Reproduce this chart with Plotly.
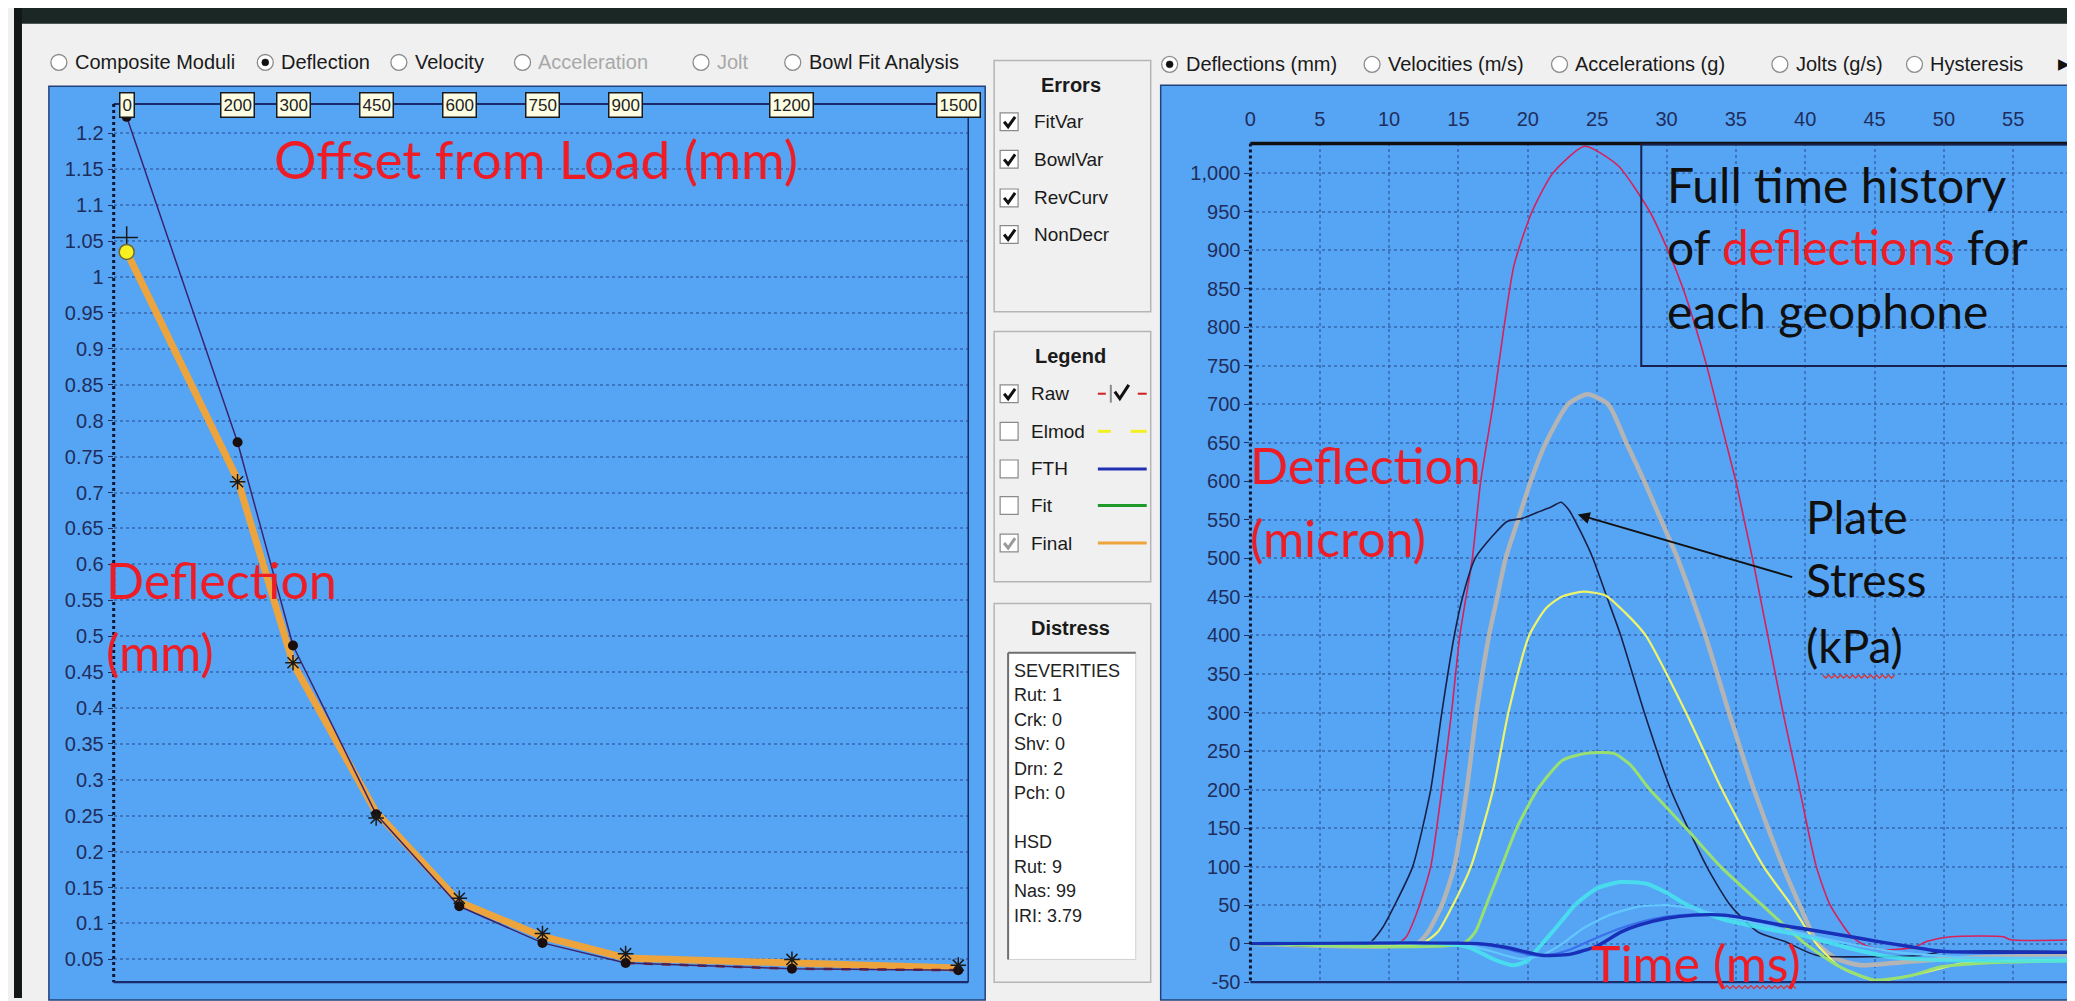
import plotly.graph_objects as go

W, H = 2075, 1001
UI = "Liberation Sans, Arial, sans-serif"
HAND = "Lato, Open Sans, sans-serif"
NAVY = "#1f2d5c"
BLUE_BG = "#56a5f5"

# ---------------- left chart: deflection bowl ----------------
offsets_mm = [0, 200, 300, 450, 600, 750, 900, 1200, 1500]
raw_defl = [1.223, 0.770, 0.487, 0.252, 0.124, 0.073, 0.045, 0.037, 0.035]
final_defl = [1.035, 0.718, 0.462, 0.255, 0.130, 0.082, 0.052, 0.045, 0.038]
elmod_defl = [1.055, 0.715, 0.463, 0.247, 0.135, 0.086, 0.058, 0.050, 0.042]
left_ticks = [1.2, 1.15, 1.1, 1.05, 1.0, 0.95, 0.9, 0.85, 0.8, 0.75, 0.7, 0.65,
              0.6, 0.55, 0.5, 0.45, 0.4, 0.35, 0.3, 0.25, 0.2, 0.15, 0.1, 0.05]
left_tick_text = ["1.2", "1.15", "1.1", "1.05", "1", "0.95", "0.9", "0.85", "0.8",
                  "0.75", "0.7", "0.65", "0.6", "0.55", "0.5", "0.45", "0.4", "0.35",
                  "0.3", "0.25", "0.2", "0.15", "0.1", "0.05"]

# ---------------- right chart: time histories (micron) ----------------
time_ticks = [0, 5, 10, 15, 20, 25, 30, 35, 40, 45, 50, 55]
defl_ticks = [-50, 0, 50, 100, 150, 200, 250, 300, 350, 400, 450, 500, 550, 600,
              650, 700, 750, 800, 850, 900, 950, 1000]
defl_tick_text = ["-50", "0", "50", "100", "150", "200", "250", "300", "350", "400",
                  "450", "500", "550", "600", "650", "700", "750", "800", "850",
                  "900", "950", "1,000"]

t_red = [0, 10.5, 11.2, 12.0, 13.0, 13.8, 14.5, 15.1, 16.0, 16.6, 17.5, 19.0, 20.3, 21.8,
         24.1, 26.5, 28.8, 30.1, 31.2, 32.1, 32.9, 33.6, 34.3, 35.0, 35.6, 36.2, 37.3,
         38.4, 39.6, 40.8, 41.8, 43.3, 44.3, 45.5, 47.8, 48.8, 50.5, 54.3, 54.8, 59.7]
d_red = [0, 0, 8, 40, 100, 200, 300, 400, 500, 600, 700, 880, 950, 1000,
         1035, 1010, 950, 900, 850, 800, 750, 700, 650, 600, 550, 500, 400,
         300, 200, 100, 50, 10, -2, -8, -5, 3, 9, 9, 5, 5]

t_grey = [0, 12.0, 12.8, 13.8, 14.7, 15.6, 16.3, 17.2, 17.8, 18.4, 19.3, 20.2, 21.3, 22.9,
          24.3, 25.8, 27.1, 28.4, 29.6, 30.8, 32.8, 34.5, 36.3, 38.4, 39.6, 40.9, 42.3,
          44.0, 47.0, 52.0, 59.7]
d_grey = [0, 0, 15, 50, 100, 200, 300, 400, 450, 500, 550, 600, 650, 700,
          713, 700, 650, 600, 550, 500, 400, 300, 200, 100, 50, 0, -20,
          -28, -24, -18, -15]

t_plate = [0, 8.5, 9.5, 10.4, 11.7, 13.0, 13.8, 14.7, 15.3, 16.2, 17.5, 18.5, 19.6, 20.7,
           21.6, 22.4, 23.0, 23.8, 24.7, 25.7, 26.7, 28.4, 30.3, 32.9, 34.6, 36.6, 38.5,
           40.8, 48.5, 50.0, 59.7]
d_plate = [0, 0, 20, 50, 100, 200, 300, 400, 450, 500, 530, 548, 552, 560,
           566, 573, 562, 535, 500, 450, 400, 300, 200, 100, 50, 15, 3,
           -15, -15, -10, -11]

t_yel = [0, 12.3, 13.5, 14.6, 15.9, 17.5, 18.6, 20.1, 21.3, 22.4, 24.0, 25.6, 27.0, 28.5,
         31.4, 34.0, 37.0, 39.0, 40.8, 42.5, 45.0, 48.0, 51.2, 55.0, 59.7]
d_yel = [0, 0, 15, 50, 100, 200, 300, 400, 435, 450, 457, 452, 430, 400,
         300, 200, 100, 50, 0, -30, -48, -40, -26, -22, -20]

t_grn = [0, 15.3, 16.2, 17.0, 18.1, 19.2, 20.7, 22.5, 24.2, 26.2, 27.4, 28.8, 31.4, 33.9,
         36.9, 40.0, 42.5, 45.0, 47.5, 49.8, 53.0, 59.7]
d_grn = [0, 0, 15, 50, 100, 150, 200, 238, 247, 247, 232, 200, 150, 100,
         50, 0, -30, -47, -42, -30, -25, -22]

t_cyan = [0, 14.0, 15.8, 17.5, 19.0, 20.0, 20.8, 22.0, 23.5, 25.0, 26.7, 28.5, 30.0, 31.5,
          34.0, 37.0, 40.0, 43.0, 46.0, 48.0, 52.0, 59.7]
d_cyan = [0, 0, -5, -20, -28, -22, -5, 20, 52, 72, 80, 78, 66, 50,
          32, 20, 10, -5, -17, -20, -22, -22]

t_sky = [0, 15, 17, 19.5, 21, 22.5, 24, 26, 28, 30, 32, 35, 38, 41, 44, 47, 52, 59.7]
d_sky = [0, 0, -8, -20, -15, 0, 20, 38, 48, 50, 45, 32, 20, 8, -3, -12, -18, -18]

t_mblue = [0, 16, 18, 20.3, 21.5, 23, 25, 27, 29, 31, 33, 35, 38, 41, 44, 47, 50, 59.7]
d_mblue = [0, 0, -5, -15, -15, -8, 8, 22, 32, 37, 38, 35, 26, 16, 6, -3, -9, -12]

t_dblue = [0, 16.4, 18.5, 21, 23, 25, 26.7, 28, 30, 32, 34.2, 36, 38.5, 40, 43, 45.5,
           47.6, 49.8, 59.7]
d_dblue = [0, 0, -5, -15, -14, -3, 15, 24, 33, 37, 37, 32, 23, 19, 10, 2,
           -4, -10, -11]

# ---------------- helpers (pixel -> paper) ----------------
shapes, annos = [], []


def px(x):
    return x / W


def py(y):
    return 1 - y / H


def rect(x0, y0, x1, y1, fill=None, line=None, lw=1.0, layer="below"):
    shapes.append(dict(type="rect", xref="paper", yref="paper",
                       x0=px(x0), x1=px(x1), y0=py(y1), y1=py(y0),
                       fillcolor=fill or "rgba(0,0,0,0)",
                       line=dict(color=line or "rgba(0,0,0,0)", width=lw if line else 0),
                       layer=layer))


def seg(x0, y0, x1, y1, color, width=1.0, dash=None, layer="above"):
    d = dict(type="line", xref="paper", yref="paper", x0=px(x0), x1=px(x1),
             y0=py(y0), y1=py(y1), line=dict(color=color, width=width), layer=layer)
    if dash:
        d["line"]["dash"] = dash
    shapes.append(d)


def path(points, color, width=1.0, layer="above"):
    p = "M " + " L ".join(f"{px(x):.5f},{py(y):.5f}" for x, y in points)
    shapes.append(dict(type="path", xref="paper", yref="paper", path=p,
                       line=dict(color=color, width=width), layer=layer))


def text(x, y, s, size=19, color="#1a1a1a", anchor="left", family=UI, yanchor="middle"):
    annos.append(dict(xref="paper", yref="paper", x=px(x), y=py(y), text=s,
                      showarrow=False, xanchor=anchor, yanchor=yanchor,
                      font=dict(size=size, color=color, family=family)))


def radio(cx, cy, label, selected=False, grey=False):
    r = 8
    shapes.append(dict(type="circle", xref="paper", yref="paper",
                       x0=px(cx - r), x1=px(cx + r), y0=py(cy + r), y1=py(cy - r),
                       fillcolor="#ffffff", line=dict(color="#8c8c8c", width=1.3),
                       layer="above"))
    if selected:
        r2 = 3.5
        shapes.append(dict(type="circle", xref="paper", yref="paper",
                           x0=px(cx - r2), x1=px(cx + r2), y0=py(cy + r2), y1=py(cy - r2),
                           fillcolor="#111111", line=dict(color="#111111", width=0.5),
                           layer="above"))
    text(cx + 14, cy, label, size=20, color="#a8a8a8" if grey else "#1a1a1a")


def checkbox(x0, cy, label, checked=True, tx=None, grey=False):
    s = 18
    y0 = cy - s / 2
    rect(x0, y0, x0 + s, y0 + s, fill="#ffffff", line="#8a8a8a", lw=1.2, layer="above")
    if checked:
        col = "#9a9a9a" if grey else "#111111"
        path([(x0 + 4, y0 + 9), (x0 + 8, y0 + 14), (x0 + 15, y0 + 4)], col, 3)
    text(tx if tx else x0 + 32, cy, label, size=19, color="#1a1a1a")


def wavy(x0, x1, y, color="#e03030"):
    pts = []
    x = x0
    k = 0
    while x <= x1:
        pts.append((x, y + (1.6 if k % 2 else -1.6)))
        x += 3
        k += 1
    path(pts, color, 1.2)


# ---------------- window chrome ----------------
rect(0, 0, W, 16, fill="#1b2725", layer="below")
rect(0, 0, 8, H, fill="#121815", layer="below")
# blue panels
rect(35, 79, 974, H + 2, fill=BLUE_BG, line="#24407a", lw=1.5)
rect(1150, 78, W + 2, H + 2, fill=BLUE_BG, line="#24407a", lw=1.5)

# radio rows
radio(45, 55, "Composite Moduli")
radio(252, 55, "Deflection", selected=True)
radio(386, 55, "Velocity")
radio(510, 55, "Acceleration", grey=True)
radio(689, 55, "Jolt", grey=True)
radio(781, 55, "Bowl Fit Analysis")

radio(1159, 57, "Deflections (mm)", selected=True)
radio(1362, 57, "Velocities (m/s)")
radio(1550, 57, "Accelerations (g)")
radio(1771, 57, "Jolts (g/s)")
radio(1906, 57, "Hysteresis")
text(2056, 56, "\u25B6", size=15, color="#111111", anchor="center")

# group boxes
rect(983, 53, 1140, 307, fill="#f0f0f0", line="#b5b5b5", lw=1.5)
rect(983, 327, 1140, 580, fill="#f0f0f0", line="#b5b5b5", lw=1.5)
rect(983, 602, 1140, 985, fill="#f0f0f0", line="#b5b5b5", lw=1.5)
text(1060, 78, "<b>Errors</b>", size=20, anchor="center")
text(1060, 352, "<b>Legend</b>", size=20, anchor="center")
text(1060, 627, "<b>Distress</b>", size=20, anchor="center")

for lab, yy in zip(["FitVar", "BowlVar", "RevCurv", "NonDecr"], [115, 153, 192, 229]):
    checkbox(989, yy, lab, True)

legend_rows = [("Raw", 390, True, False), ("Elmod", 428, False, False),
               ("FTH", 466, False, False), ("Fit", 503, False, False),
               ("Final", 541, True, True)]
for lab, yy, chk, gr in legend_rows:
    checkbox(989, yy, lab, chk, tx=1018, grey=gr)
# legend line samples
seg(1087, 390, 1095, 390, "#d02020", 2)
seg(1127, 390, 1136, 390, "#d02020", 2)
seg(1100, 381, 1100, 399, "#8a8a8a", 2)
path([(1104, 388), (1109, 395), (1118, 381)], "#111111", 3)
seg(1087, 428, 1100, 428, "#f2f020", 3)
seg(1120, 428, 1136, 428, "#f2f020", 3)
seg(1087, 466, 1136, 466, "#2030b0", 3)
seg(1087, 503, 1136, 503, "#1f9a2a", 3)
seg(1087, 541, 1136, 541, "#eea43c", 3)

# distress list box
rect(997, 652, 1125, 962, fill="#ffffff", line="#d0d0d0", lw=1, layer="above")
seg(997, 652, 1125, 652, "#707070", 2)
seg(997, 652, 997, 962, "#707070", 2)
distress_lines = ["SEVERITIES", "Rut: 1", "Crk: 0", "Shv: 0", "Drn: 2", "Pch: 0", "",
                  "HSD", "Rut: 9", "Nas: 99", "IRI: 3.79"]
for i, s in enumerate(distress_lines):
    if s:
        text(1001, 670 + i * 24.8, s, size=18, color="#222222")

# ---------------- left chart frame ----------------
seg(100, 97, 957, 97, "#1a2a6a", 2)
seg(100, 97, 100, 985, "#0d1530", 3, dash="dot")
seg(100, 985, 957, 985, "#1a2a6a", 2.2)
seg(957, 97, 957, 985, "#1a2a6a", 1.5)

for off in offsets_mm:
    annos.append(dict(xref="x", yref="paper", x=off, y=py(98), text=str(off),
                      showarrow=False, xanchor="center", yanchor="middle",
                      font=dict(size=17, color="#222222", family=UI),
                      bgcolor="#fdfde4", bordercolor="#1a1a1a", borderwidth=1.5,
                      borderpad=2))

# ---------------- right chart frame ----------------
seg(1240, 137, 2070, 137, "#101010", 3.5)
seg(1240, 137, 1240, 985, "#0d1530", 3, dash="dot")
seg(1240, 985, 2070, 985, "#1a2a6a", 2.2)
seg(2070, 137, 2070, 985, "#1a2a6a", 1.5)
# text box on the right chart
rect(1632, 138, 2069, 362, line="#182050", lw=2, layer="above")
text(1656, 178, "Full time history", size=48, color="#101010", family=HAND)
text(1656, 241, "of <span style='color:#ee1c25'>deflections</span> for", size=48,
     color="#101010", family=HAND)
text(1656, 306, "each geophone", size=48, color="#101010", family=HAND)

# red labels
text(524, 152, "Offset from Load (mm)", size=53, color="#ee1c25", anchor="center", family=HAND)
text(90, 578, "Deflection", size=50, color="#ee1c25", family=HAND)
text(90, 651, "(mm)", size=50, color="#ee1c25", family=HAND)
text(1238, 462, "Deflection", size=50, color="#ee1c25", family=HAND)
text(1238, 536, "(micron)", size=50, color="#ee1c25", family=HAND)
text(1580, 966, "Time (ms)", size=50, color="#ee1c25", family=HAND)
text(1795, 514, "Plate", size=46, color="#101010", family=HAND)
text(1795, 578, "Stress", size=46, color="#101010", family=HAND)
text(1795, 645, "(kPa)", size=46, color="#101010", family=HAND)
wavy(1814, 1888, 676)
wavy(1712, 1788, 990)

annos.append(dict(xref="x2", yref="y2", x=23.6, y=557, ax=216, ay=63, text="",
                  showarrow=True, arrowhead=2, arrowsize=1.2, arrowwidth=2,
                  arrowcolor="#111111"))

# ---------------- traces ----------------
fig = go.Figure()

fig.add_trace(go.Scatter(x=offsets_mm, y=final_defl, mode="lines",
                         line=dict(color="#eea43c", width=7), xaxis="x", yaxis="y"))
fig.add_trace(go.Scatter(x=offsets_mm[6:], y=raw_defl[6:], mode="lines",
                         line=dict(color="#8b1a10", width=2.5, dash="dash"),
                         xaxis="x", yaxis="y"))
fig.add_trace(go.Scatter(x=offsets_mm, y=raw_defl, mode="lines+markers",
                         line=dict(color="#3a2470", width=1.5),
                         marker=dict(color="#1a0d0d", size=10),
                         xaxis="x", yaxis="y"))
fig.add_trace(go.Scatter(x=offsets_mm[1:], y=elmod_defl[1:], mode="markers",
                         marker=dict(symbol="asterisk-open", size=13, color="#1a1a1a",
                                     line=dict(color="#1a1a1a", width=1.5)),
                         xaxis="x", yaxis="y"))
fig.add_trace(go.Scatter(x=offsets_mm[:1], y=elmod_defl[:1], mode="markers",
                         marker=dict(symbol="cross-thin-open", size=16, color="#1a1a1a",
                                     line=dict(color="#1a1a1a", width=1.5)),
                         xaxis="x", yaxis="y"))
fig.add_trace(go.Scatter(x=offsets_mm[:1], y=final_defl[:1], mode="markers",
                         marker=dict(color="#f8f020", size=15,
                                     line=dict(color="#6a6a3a", width=1.5)),
                         xaxis="x", yaxis="y"))

curves = [
    (t_grey, d_grey, "#b4b4b4", 4.5),
    (t_red, d_red, "#d8205a", 1.6),
    (t_plate, d_plate, "#1a2048", 1.6),
    (t_yel, d_yel, "#eef46a", 2.2),
    (t_grn, d_grn, "#98e070", 3.0),
    (t_cyan, d_cyan, "rgba(70,228,236,0.85)", 4.0),
    (t_sky, d_sky, "#62c6ff", 2.2),
    (t_mblue, d_mblue, "#3a70ea", 2.2),
    (t_dblue, d_dblue, "#1830b8", 3.4),
]
for tt, dd, col, wd in curves:
    fig.add_trace(go.Scatter(x=tt, y=dd, mode="lines",
                             line=dict(color=col, width=wd, shape="spline", smoothing=0.6),
                             xaxis="x2", yaxis="y2"))

GRID = "rgba(45,80,150,0.55)"
fig.update_layout(
    width=W, height=H, margin=dict(l=0, r=0, t=0, b=0),
    paper_bgcolor="#f0f0f0", plot_bgcolor="rgba(0,0,0,0)",
    showlegend=False,
    xaxis=dict(domain=[px(100), px(957)], range=[-23.4, 1518], anchor="y",
               showgrid=False, zeroline=False, showticklabels=False, showline=False,
               ticks=""),
    yaxis=dict(domain=[py(985), py(97)], range=[0.0183, 1.241], anchor="x",
               tickvals=left_ticks, ticktext=left_tick_text, ticks="outside",
               ticklen=5, tickcolor=NAVY, tickfont=dict(size=20, color=NAVY, family=UI),
               showgrid=True, gridcolor=GRID, griddash="dot", gridwidth=1.5,
               zeroline=False, showline=False),
    xaxis2=dict(domain=[px(1240), px(2070)], range=[0, 59.67], anchor="y2", side="top",
                tickvals=time_ticks, ticks="", ticklabelstandoff=12,
                tickfont=dict(size=20, color=NAVY, family=UI),
                showgrid=True, gridcolor=GRID, griddash="dot", gridwidth=1.5,
                zeroline=False, showline=False),
    yaxis2=dict(domain=[py(985), py(137)], range=[-50, 1038.6], anchor="x2",
                tickvals=defl_ticks, ticktext=defl_tick_text, ticks="outside",
                ticklen=5, tickcolor=NAVY, tickfont=dict(size=20, color=NAVY, family=UI),
                showgrid=True, gridcolor=GRID, griddash="dot", gridwidth=1.5,
                zeroline=False, showline=False),
    shapes=shapes, annotations=annos,
)

fig.write_html("out.html")
